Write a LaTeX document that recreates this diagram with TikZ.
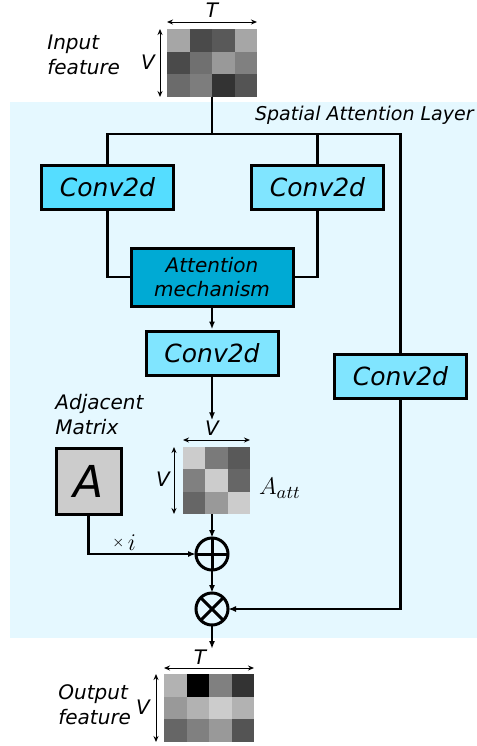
\documentclass[tikz,border=0pt]{standalone}
\usepackage{fontspec}
\setmainfont{DejaVu Sans}
\usetikzlibrary{arrows.meta}
\definecolor{layerbg}{HTML}{E5F8FF}
\definecolor{convdark}{HTML}{55DDFF}
\definecolor{convlight}{HTML}{80E5FF}
\definecolor{attn}{HTML}{00AAD4}
\definecolor{adjgray}{HTML}{CCCCCC}

\begin{document}
\begin{tikzpicture}[
  x=0.5pt, y=-0.5pt,
  conv/.style={draw, line width=1.5pt, fill=convlight, minimum width=66pt,
               minimum height=22pt, inner sep=0pt,
               font=\fontsize{12.5}{14}\selectfont\itshape},
  attbox/.style={draw, line width=1.5pt, fill=attn, minimum width=81pt,
                 minimum height=29pt, inner sep=0pt, align=center,
                 font=\fontsize{10}{12}\selectfont\itshape},
  adjbox/.style={draw, line width=1.5pt, fill=adjgray, minimum width=32.5pt,
                 minimum height=33pt, inner sep=0pt,
                 font=\fontsize{22}{24}\selectfont\itshape},
  op/.style={circle, draw, line width=1.5pt, minimum size=16pt, inner sep=0pt,
             outer sep=0pt},
  fmap/.style={inner sep=0pt, outer sep=0pt},
  lbl/.style={font=\fontsize{10}{12.5}\selectfont\itshape, align=left,
              inner sep=0pt},
  wire/.style={draw=black, line width=1.25pt},
  flow/.style={wire, -{Latex[length=4pt, width=3pt]}},
  dim/.style={draw=black, line width=0.5pt,
              {Stealth[length=3pt, width=2.5pt]}-{Stealth[length=3pt, width=2.5pt]}},
]
  \useasboundingbox (0,0) rectangle (477,746);
  \fill[layerbg] (10,102) rectangle (477,638);

  \fill[black!35] (167,29) rectangle (189.5,51.7);
  \fill[black!71] (189.5,29) rectangle (212,51.7);
  \fill[black!65] (212,29) rectangle (234.5,51.7);
  \fill[black!35] (234.5,29) rectangle (257,51.7);
  \fill[black!71] (167,51.7) rectangle (189.5,74.3);
  \fill[black!56] (189.5,51.7) rectangle (212,74.3);
  \fill[black!40] (212,51.7) rectangle (234.5,74.3);
  \fill[black!50] (234.5,51.7) rectangle (257,74.3);
  \fill[black!58] (167,74.3) rectangle (189.5,97);
  \fill[black!51] (189.5,74.3) rectangle (212,97);
  \fill[black!80] (212,74.3) rectangle (234.5,97);
  \fill[black!67] (234.5,74.3) rectangle (257,97);
  \node[fmap, minimum width=45pt, minimum height=34pt] (inmat) at (212,63) {};

  \fill[black!20] (183,447) rectangle (205.3,469.3);
  \fill[black!52] (205.3,447) rectangle (227.7,469.3);
  \fill[black!65] (227.7,447) rectangle (250,469.3);
  \fill[black!50] (183,469.3) rectangle (205.3,491.7);
  \fill[black!20] (205.3,469.3) rectangle (227.7,491.7);
  \fill[black!60] (227.7,469.3) rectangle (250,491.7);
  \fill[black!60] (183,491.7) rectangle (205.3,514);
  \fill[black!40] (205.3,491.7) rectangle (227.7,514);
  \fill[black!20] (227.7,491.7) rectangle (250,514);
  \node[fmap, minimum width=33.5pt, minimum height=33.5pt] (aatt) at (216.5,480.5) {};

  \fill[black!30] (164,674) rectangle (186.5,696.7);
  \fill[black]    (186.5,674) rectangle (209,696.7);
  \fill[black!50] (209,674) rectangle (231.5,696.7);
  \fill[black!80] (231.5,674) rectangle (254,696.7);
  \fill[black!40] (164,696.7) rectangle (186.5,719.3);
  \fill[black!30] (186.5,696.7) rectangle (209,719.3);
  \fill[black!20] (209,696.7) rectangle (231.5,719.3);
  \fill[black!30] (231.5,696.7) rectangle (254,719.3);
  \fill[black!60] (164,719.3) rectangle (186.5,742);
  \fill[black!50] (186.5,719.3) rectangle (209,742);
  \fill[black!40] (209,719.3) rectangle (231.5,742);
  \fill[black!67] (231.5,719.3) rectangle (254,742);
  \node[fmap, minimum width=45pt, minimum height=34pt] (outmat) at (209,708) {};

  \node[lbl, anchor=west] (inlbl) at (47,55) {Input\\feature};
  \node[lbl] (inT) at (212,10) {T};
  \node[lbl] (inV) at (148,62) {V};
  \node[lbl, anchor=east, font=\fontsize{9.5}{12}\selectfont\itshape] (layer) at (474,115) {Spatial Attention Layer};

  \node[conv, fill=convdark] (convL) at (107.5,187) {Conv2d};
  \node[conv] (convR) at (317.5,187) {Conv2d};
  \node[attbox] (att) at (212,277) {Attention\\mechanism};
  \node[conv] (convM) at (212,353) {Conv2d};
  \node[conv] (convF) at (400.5,376) {Conv2d};

  \node[lbl, anchor=west] (adjlbl) at (55,415) {Adjacent\\Matrix};
  \node[adjbox] (abox) at (88.5,481) {A};
  \node[lbl] (aV1) at (212,428) {V};
  \node[lbl] (aV2) at (163,479) {V};
  \node[inner sep=0pt, font=\fontsize{13}{14}\selectfont] (aname) at (280,488) {$A_{att}$};
  \node[inner sep=0pt] (mult) at (124,543) {\raisebox{2pt}{\fontsize{7}{8}\selectfont$\times$}\,{\fontsize{13}{14}\selectfont$i$}};

  \node[op] (plus) at (212,554) {};
  \node[op] (times) at (212,609) {};
  \coordinate (outin) at (212,649);

  \node[lbl] (outT) at (200,657) {T};
  \node[lbl] (outV) at (143,707) {V};
  \node[lbl, anchor=west] (outlbl) at (58,705) {Output\\feature};

  \draw[dim] ([yshift=3.5pt]inmat.north west) -- ([yshift=3.5pt]inmat.north east);
  \draw[dim] ([xshift=-3.5pt]inmat.north west) -- ([xshift=-3.5pt]inmat.south west);
  \draw[dim] ([yshift=3.5pt]aatt.north west) -- ([yshift=3.5pt]aatt.north east);
  \draw[dim] ([xshift=-4.5pt]aatt.north west) -- ([xshift=-4.5pt]aatt.south west);
  \draw[dim] ([yshift=3pt]outmat.north west) -- ([yshift=3pt]outmat.north east);
  \draw[dim] ([xshift=-4pt]outmat.north west) -- ([xshift=-4pt]outmat.south west);

  \coordinate (split) at (212,134);
  \draw[wire] (inmat.south) -- (split);
  \draw[wire] (convL.north) -- (convL.north |- split) -- (convF.north |- split) -- (convF.north);
  \draw[wire] (convR.north) -- (convR.north |- split);
  \draw[wire] (convL.south) |- (att.west);
  \draw[wire] (convR.south) |- (att.east);
  \draw[flow, line width=1pt] (att.south) -- (convM.north);
  \draw[flow] (convM.south) -- (aV1.north);
  \draw[flow] (plus.north |- aatt.south) -- (plus.north);
  \draw[flow] (abox.south) |- (plus.west);
  \draw[flow] (plus.south) -- (times.north);
  \draw[flow] (convF.south) |- (times.east);
  \draw[flow] (times.south) -- (outin);

  \draw[line width=1.5pt] (plus.north) -- (plus.south);
  \draw[line width=1.5pt] (plus.west) -- (plus.east);
  \draw[line width=1.5pt] (times.north west) -- (times.south east);
  \draw[line width=1.5pt] (times.north east) -- (times.south west);
\end{tikzpicture}
\end{document}
